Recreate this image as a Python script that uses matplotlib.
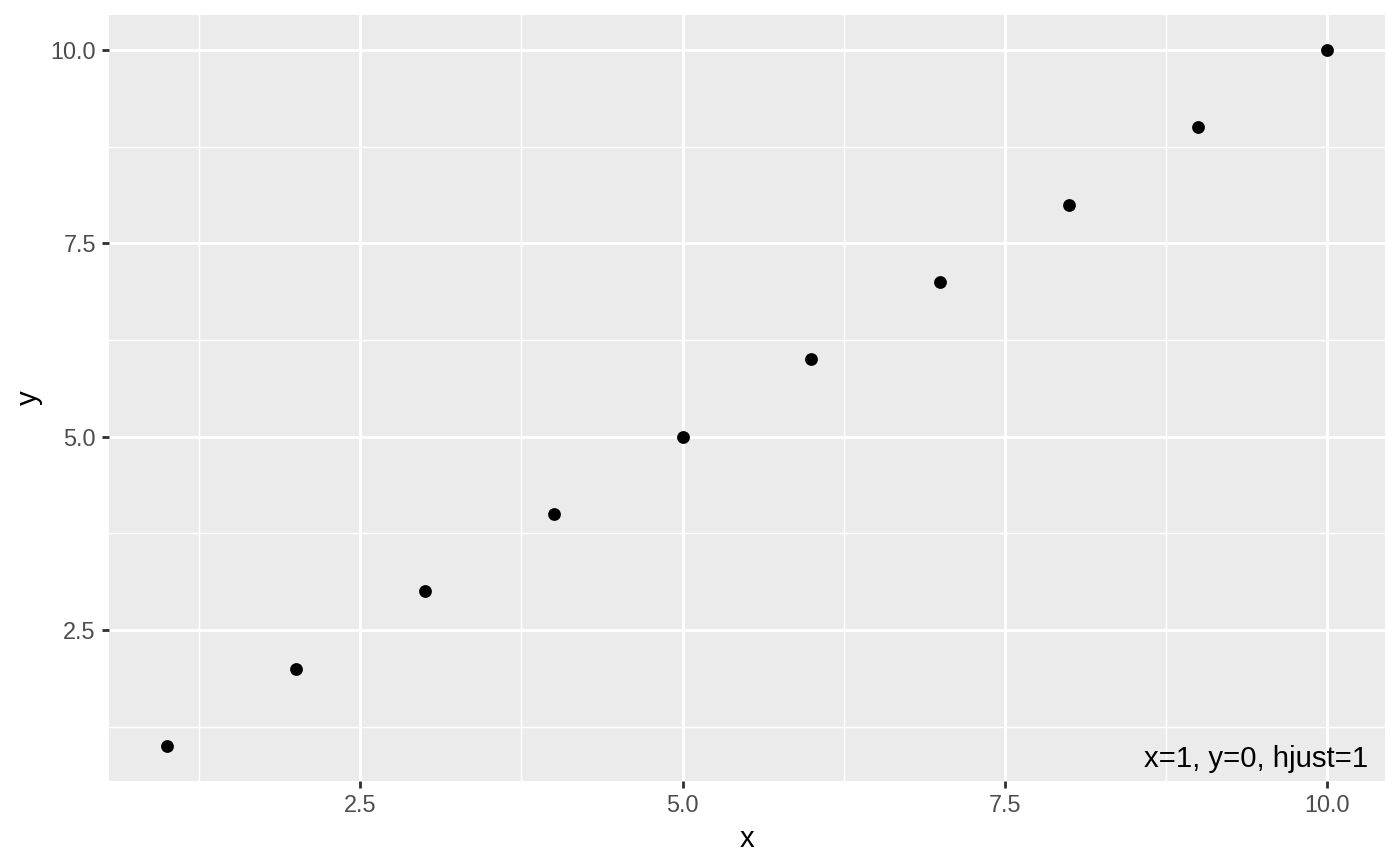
import numpy as np
import matplotlib
matplotlib.use("Agg")
import matplotlib.pyplot as plt

plt.rcParams['font.family'] = ['Liberation Sans', 'DejaVu Sans']

x_vals = [1, 2, 3, 4, 5, 6, 7, 8, 9, 10]
y_vals = [1, 2, 3, 4, 5, 6, 7, 8, 9, 10]
major_ticks = [2.5, 5.0, 7.5, 10.0]
minor_ticks = [1.25, 3.75, 6.25, 8.75]
tick_labels = ["2.5", "5.0", "7.5", "10.0"]
note_text = "x=1, y=0, hjust=1"

dpi = 192
fig = plt.figure(figsize=(1400 / dpi, 866 / dpi), dpi=dpi)
ax = fig.add_axes([109 / 1400, (866 - 781) / 866, (1385 - 109) / 1400, (781 - 15) / 866])
ax.set_facecolor("#EBEBEB")
for s in ax.spines.values():
    s.set_visible(False)

ax.set_xlim(0.55, 10.45)
ax.set_ylim(0.55, 10.45)
ax.set_xticks(major_ticks)
ax.set_xticklabels(tick_labels)
ax.set_yticks(major_ticks)
ax.set_yticklabels(tick_labels)
ax.set_xticks(minor_ticks, minor=True)
ax.set_yticks(minor_ticks, minor=True)

ax.grid(which="major", color="white", linewidth=1.07)
ax.grid(which="minor", color="white", linewidth=0.53)
ax.set_axisbelow(True)
ax.tick_params(which="major", length=2.75, width=1.07, color="#333333",
               labelsize=8.8, labelcolor="#4D4D4D", pad=2.2)
ax.tick_params(which="minor", length=0)

ax.scatter(x_vals, y_vals, s=4.8 ** 2, color="black", linewidths=0, zorder=3)

ax.set_xlabel("x", fontsize=11, labelpad=2.75)
ax.set_ylabel("y", fontsize=11, labelpad=2.75)

# bottom-right note, right aligned
ax.annotate(note_text, xy=(1, 0), xycoords="axes fraction",
            xytext=(-6.5, 5.4), textcoords="offset points",
            ha="right", va="baseline", fontsize=11, color="black")

fig.savefig("out.png", dpi=dpi)
